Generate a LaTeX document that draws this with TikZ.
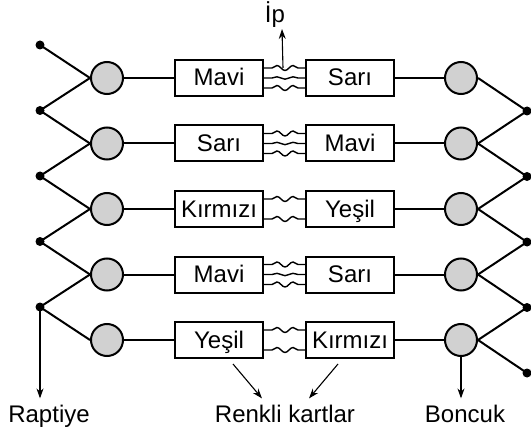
\documentclass[tikz,border=0pt]{standalone}
\usepackage{fontspec}
\setmainfont{Liberation Sans}
\usetikzlibrary{positioning}
\usetikzlibrary{arrows.meta}
\usetikzlibrary{decorations.pathmorphing}

\tikzset{
  bead/.style={circle,draw,fill=black!18,line width=2pt,minimum size=32pt,inner sep=0pt},
  pin/.style={circle,fill=black,minimum size=9pt,inner sep=0pt},
  card/.style={rectangle,draw,fill=white,line width=2pt,minimum width=88pt,minimum height=36pt,
    inner sep=0pt,text height=16pt,text depth=0pt,font=\fontsize{24}{28}\selectfont},
  wire/.style={line width=2pt},
  string/.style={line width=1.4pt,decorate,
    decoration={snake,amplitude=2.5pt,segment length=16pt,pre length=8pt,post length=3pt}},
  midstring/.style={string,decoration={amplitude=1.2pt}},
  caption/.style={font=\fontsize{24}{28}\selectfont,anchor=base,inner sep=0pt},
  pointer/.style={line width=1.1pt,-{Stealth[length=10pt,width=7pt]}}
}

\begin{document}
\begin{tikzpicture}[x=1pt,y=-1pt]
\useasboundingbox (0,0) rectangle (531,436);

\foreach \i/\l/\r in {1/Mavi/Sarı,2/Sarı/Mavi,3/Kırmızı/Yeşil,4/Mavi/Sarı,5/Yeşil/Kırmızı} {
  \pgfmathsetmacro\y{78+65.5*(\i-1)}
  \node[bead] (lb\i) at (107,\y) {};
  \node[card] (lk\i) at (219,\y) {\l};
  \node[card] (rk\i) at (350,\y) {\r};
  \node[bead] (rb\i) at (461,\y) {};
  \node[pin] (lp\i) at (40,\y-33) {};
  \node[pin] (rp\i) at (527,\y+33) {};
  \draw[wire] (lb\i) -- (lk\i) (rk\i) -- (rb\i);
  \draw[wire] (lp\i.center) -- (lb\i.west);
  \draw[wire] (rp\i.center) -- (rb\i.east);
}
\foreach \i [evaluate=\i as \j using int(\i-1)] in {2,...,5} {
  \draw[wire] (lp\i.center) -- (lb\j.west);
  \draw[wire] (rp\j.center) -- (rb\i.east);
}

% strings between the cards
\foreach \i in {1,2,4} {
  \draw[string] ([yshift=10pt]lk\i.east) -- ([yshift=10pt]rk\i.west);
  \draw[midstring] (lk\i.east) -- (rk\i.west);
  \draw[string] ([yshift=-10pt]lk\i.east) -- ([yshift=-10pt]rk\i.west);
}
\foreach \i in {3,5} {
  \draw[string] ([yshift=10pt]lk\i.east) -- ([yshift=10pt]rk\i.west);
  \draw[string] ([yshift=-10pt]lk\i.east) -- ([yshift=-10pt]rk\i.west);
}

% labels
\node[caption] (ip) at (275,23) {İp};
\node[caption] (raptiye) at (49,422) {Raptiye};
\node[caption] (kartlar) at (285,422) {Renkli kartlar};
\node[caption] (boncuk) at (465,422) {Boncuk};

\coordinate (ipfoot) at ([xshift=19pt,yshift=10pt]lk1.east);
\coordinate (iptip) at (282,29);
\draw[pointer] (ipfoot) -- (iptip);
\draw[pointer] (lp5.center) -- ([yshift=6pt]lp5 |- raptiye.north);
\draw[pointer] (rb5.south) -- ([yshift=6pt]rb5 |- boncuk.north);
\draw[pointer] ([xshift=14pt,yshift=-5pt]lk5.south) -- ([xshift=-23pt,yshift=6pt]kartlar.north);
\draw[pointer] ([xshift=-12pt,yshift=-5pt]rk5.south) -- ([xshift=24pt,yshift=6pt]kartlar.north);

\end{tikzpicture}
\end{document}
